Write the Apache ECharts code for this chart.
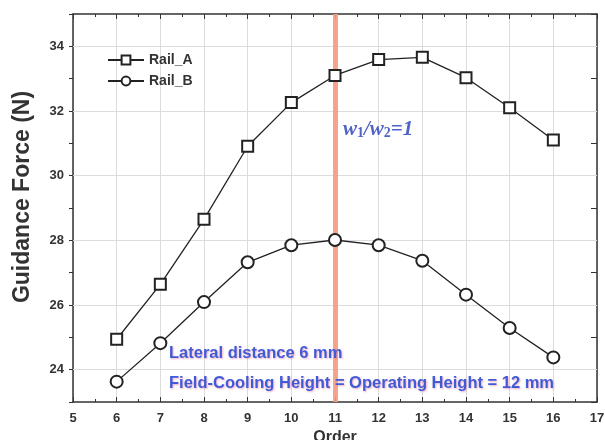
<!DOCTYPE html>
<html>
<head>
<meta charset="utf-8">
<script src="https://cdn.jsdelivr.net/npm/echarts@6/dist/echarts.min.js"></script>
<style>html,body{margin:0;padding:0;background:#fff}#c{width:605px;height:440px}</style>
</head>
<body>
<div id="c"></div>
<script>
const orders = [6, 7, 8, 9, 10, 11, 12, 13, 14, 15, 16];
const railA = [24.94, 26.64, 28.65, 30.91, 32.26, 33.10, 33.59, 33.66, 33.03, 32.10, 31.10];
const railB = [23.63, 24.82, 26.09, 27.32, 27.85, 28.01, 27.85, 27.37, 26.32, 25.29, 24.38];
const yGridValues = [24, 26, 28, 30, 32, 34];
const markerX = 11;
const seriesNames = ['Rail_A', 'Rail_B'];

const chart = echarts.init(document.getElementById('c'), null, {renderer: 'canvas'});
const font = 'Liberation Sans, Arial, sans-serif';
const axisColor = '#333';
const pairs = arr => orders.map((o, i) => [o, arr[i]]);

const option = {
  backgroundColor: '#fff',
  animation: false,
  textStyle: {fontFamily: font},
  grid: {left: 73, right: 8, top: 14, bottom: 38, outerBoundsMode: 'none', containLabel: false},
  legend: {
    orient: 'vertical', left: 102, top: 48, itemGap: 7,
    itemWidth: 36, itemHeight: 11,
    textStyle: {fontFamily: font, fontWeight: 'bold', fontSize: 14, color: '#333'},
    data: seriesNames
  },
  xAxis: [{
    type: 'value', min: 5, max: 17, interval: 1,
    name: 'Order', nameLocation: 'middle', nameGap: 25,
    nameTextStyle: {fontFamily: font, fontWeight: 'bold', fontSize: 16, color: '#333'},
    axisLine: {lineStyle: {color: axisColor, width: 1.5}},
    axisTick: {inside: true, length: 5, lineStyle: {color: axisColor}},
    minorTick: {show: true, splitNumber: 2, length: 3, lineStyle: {color: axisColor}},
    axisLabel: {fontFamily: font, fontWeight: 'bold', fontSize: 13, color: '#333', margin: 10},
    splitLine: {show: true, lineStyle: {color: '#dcdcdc', width: 1}}
  }, {
    type: 'value', min: 5, max: 17, interval: 1, position: 'top',
    axisLine: {show: true, lineStyle: {color: axisColor, width: 1.5}},
    axisTick: {show: true, inside: true, length: 5, lineStyle: {color: axisColor}},
    minorTick: {show: true, splitNumber: 2, length: 3, lineStyle: {color: axisColor}},
    axisLabel: {show: false}, splitLine: {show: false}
  }],
  yAxis: [{
    type: 'value', min: 23, max: 35, interval: 1,
    axisLine: {show: true, lineStyle: {color: axisColor, width: 1.5}},
    axisTick: {show: true, inside: false, length: 4, lineStyle: {color: axisColor}},
    axisLabel: {fontFamily: font, fontWeight: 'bold', fontSize: 13, color: '#333', margin: 9,
      formatter: v => (v % 2 === 0 ? String(v) : '')},
    splitLine: {show: false}
  }, {
    type: 'value', min: 23, max: 35, interval: 1, position: 'right',
    axisLine: {show: true, lineStyle: {color: axisColor, width: 1.5}},
    axisTick: {show: true, inside: true, length: 6, lineStyle: {color: axisColor}},
    axisLabel: {show: false}, splitLine: {show: false}
  }],
  series: [{
    name: 'guides', type: 'line', data: [], z: 1, silent: true,
    markLine: {
      silent: true, symbol: 'none', label: {show: false}, animation: false,
      data: yGridValues.map(v => ({yAxis: v, lineStyle: {color: '#dcdcdc', type: 'solid', width: 1}}))
        .concat([{xAxis: markerX, lineStyle: {color: '#f59a80', type: 'solid', width: 5, opacity: 0.9}}])
    }
  }, {
    name: 'Rail_A', type: 'line', data: pairs(railA),
    symbol: 'emptyRect', symbolSize: 11,
    lineStyle: {color: '#222', width: 1.3},
    itemStyle: {color: '#222', borderColor: '#222', borderWidth: 1.8},
    z: 5
  }, {
    name: 'Rail_B', type: 'line', data: pairs(railB),
    symbol: 'emptyCircle', symbolSize: 12,
    lineStyle: {color: '#222', width: 1.3},
    itemStyle: {color: '#222', borderColor: '#222', borderWidth: 1.8},
    z: 5
  }],
  graphic: [{
    type: 'text', x: 23, y: 197, rotation: Math.PI / 2,
    style: {text: 'Guidance Force (N)', font: 'bold 23px Liberation Sans, Arial, sans-serif', fill: '#333',
      align: 'center', verticalAlign: 'middle'}
  }, {
    type: 'text', left: 343, top: 119, z: 10,
    style: {
      text: '{w|w}{s|1}{w|/w}{s|2}{w|=1}',
      rich: {
        w: {fontFamily: 'Liberation Serif, serif', fontStyle: 'italic', fontWeight: 'bold', fontSize: 21, fill: '#5064c8'},
        s: {fontFamily: 'Liberation Serif, serif', fontWeight: 'bold', fontSize: 14, fill: '#5064c8', verticalAlign: 'bottom', padding: [8, 0, 0, 0]}
      }
    }
  }, {
    type: 'text', left: 169, top: 345, z: 10,
    style: {text: 'Lateral distance 6 mm', font: 'bold 16.5px Liberation Sans, Arial, sans-serif', fill: '#3f5cd6',
      textShadowColor: 'rgba(230,120,160,0.6)', textShadowBlur: 2, textShadowOffsetX: 1, textShadowOffsetY: 1}
  }, {
    type: 'text', left: 169, top: 375, z: 10,
    style: {text: 'Field-Cooling Height = Operating Height = 12 mm', font: 'bold 16.5px Liberation Sans, Arial, sans-serif', fill: '#3f5cd6',
      textShadowColor: 'rgba(230,120,160,0.6)', textShadowBlur: 2, textShadowOffsetX: 1, textShadowOffsetY: 1}
  }]
};
chart.setOption(option);
</script>
</body>
</html>
